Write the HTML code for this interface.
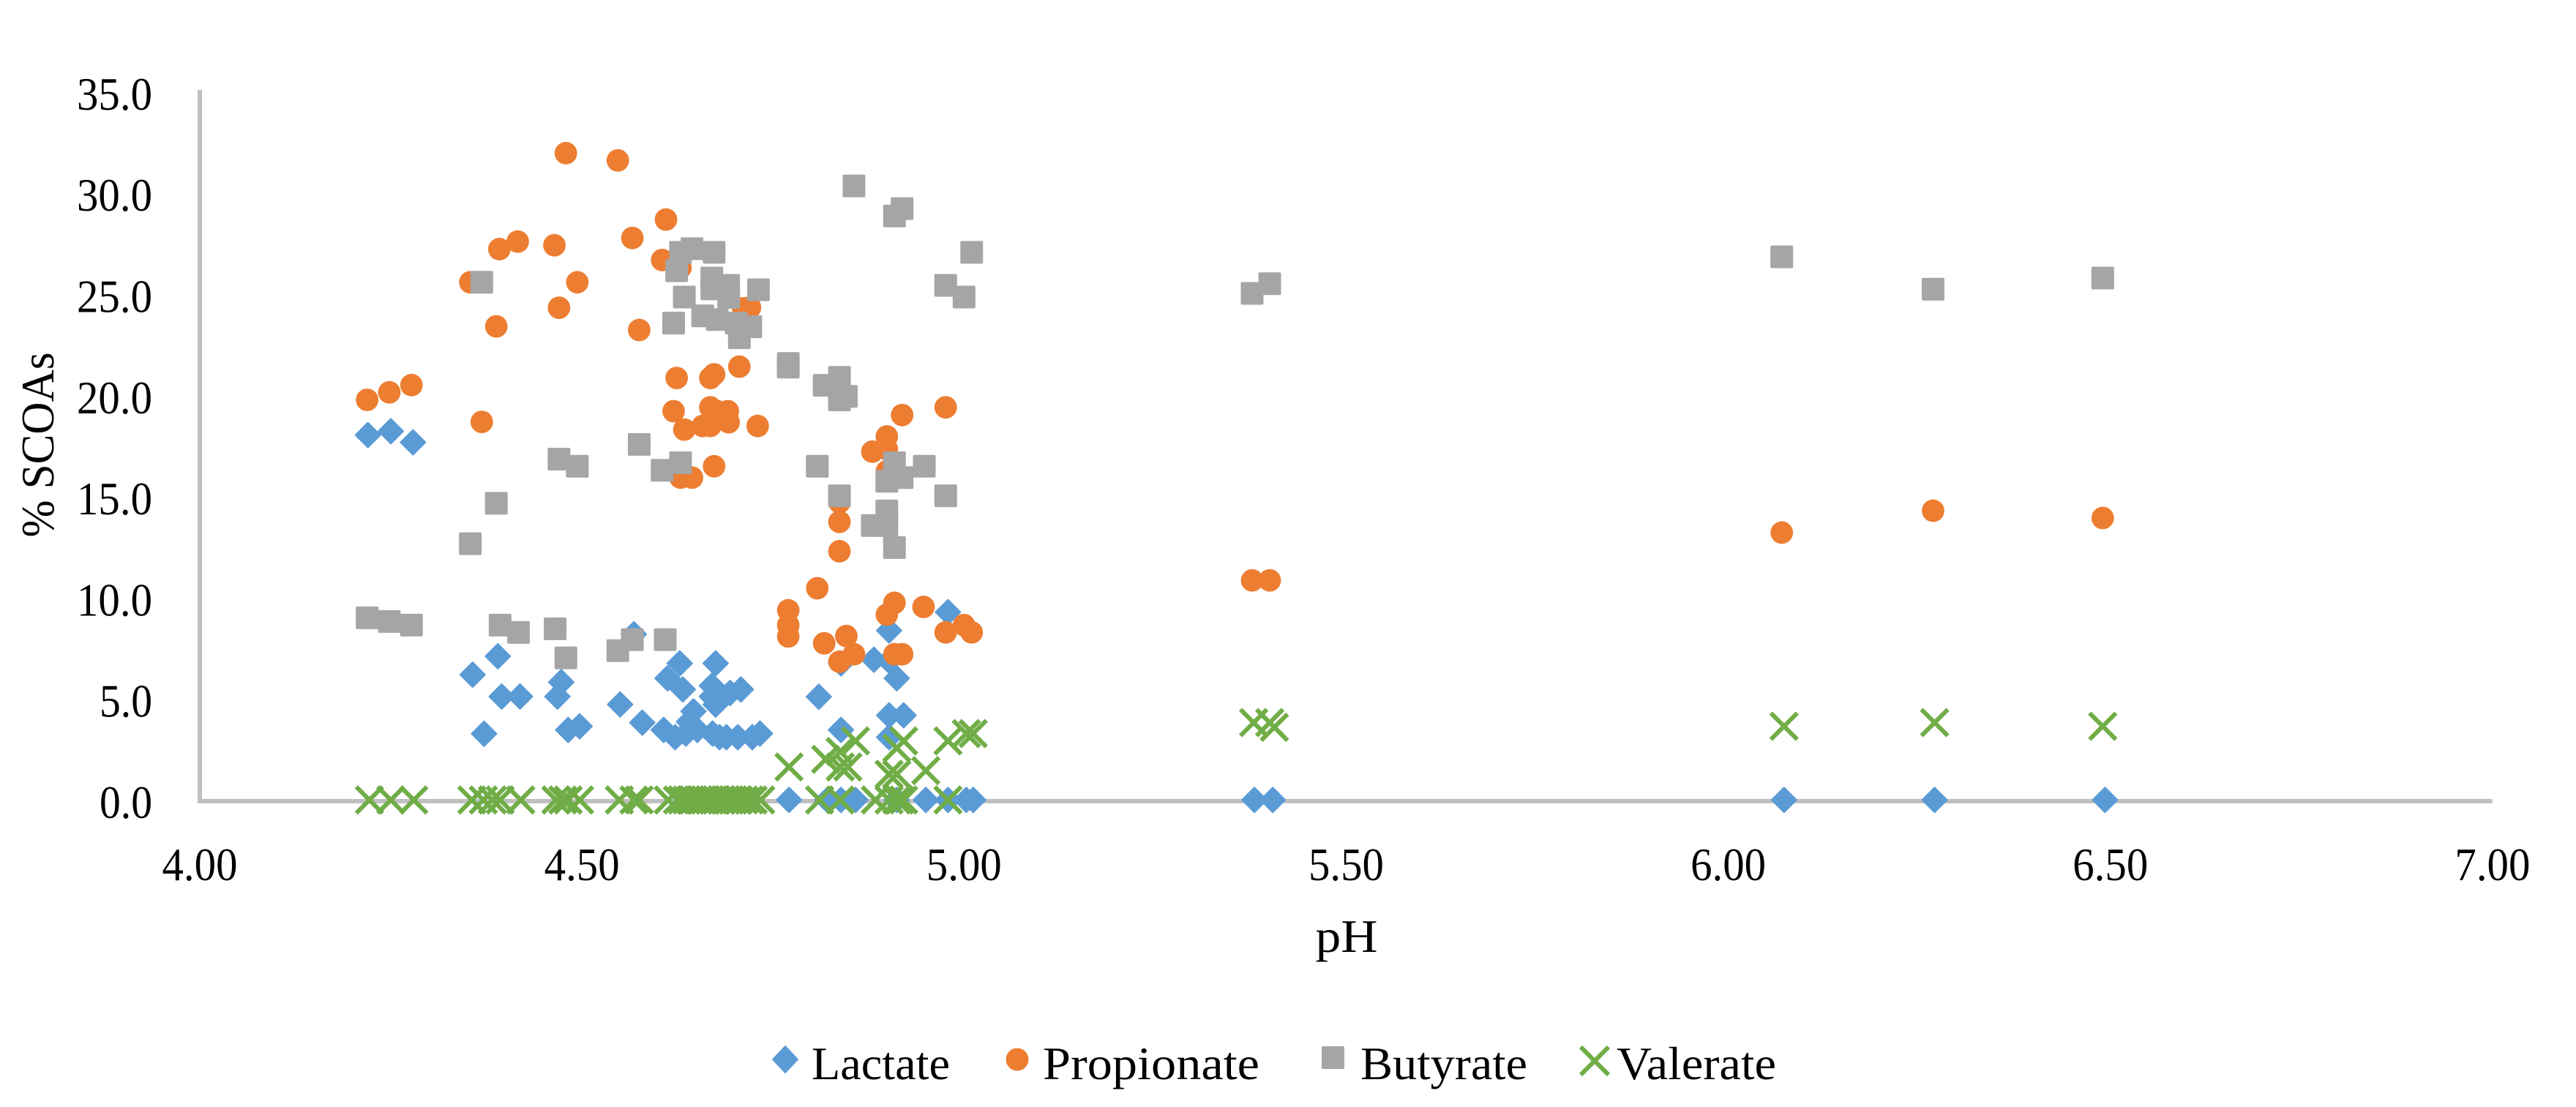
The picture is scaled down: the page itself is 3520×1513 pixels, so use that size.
<!DOCTYPE html>
<html>
<head>
<meta charset="utf-8">
<title>SCOAs vs pH</title>
<style>
html,body{margin:0;padding:0;background:#fff;}
svg{display:block;}
text{font-family:"Liberation Serif","DejaVu Serif",serif;fill:#000;}
</style>
</head>
<body>
<svg id="chart" xmlns="http://www.w3.org/2000/svg" width="3520" height="1513" viewBox="0 0 3520 1513">
  <rect x="0" y="0" width="3520" height="1513" fill="#ffffff"/>
  <g id="axes"></g>
  <g id="marks"></g>
  <text x="1840" y="1301" font-size="63" text-anchor="middle" textLength="85" lengthAdjust="spacingAndGlyphs">pH</text>
  <text transform="translate(73,608) rotate(-90)" font-size="63" text-anchor="middle" textLength="253" lengthAdjust="spacingAndGlyphs">% SCOAs</text>
  <g>
    <g>
      <path d="M1073 1430 L1090 1448 L1073 1466 L1056 1448 Z" fill="#5B9BD5" stroke="#5B9BD5" stroke-width="2" stroke-linejoin="round"/>
      <text x="1109" y="1475" font-size="63" textLength="189" lengthAdjust="spacingAndGlyphs">Lactate</text>
    </g>
    <g>
      <circle cx="1390" cy="1448" r="15.5" fill="#ED7D31"/>
      <text x="1425" y="1475" font-size="63" textLength="296" lengthAdjust="spacingAndGlyphs">Propionate</text>
    </g>
    <g>
      <rect x="1806" y="1430" width="31" height="31" rx="2" fill="#A5A5A5"/>
      <text x="1859" y="1475" font-size="63" textLength="228" lengthAdjust="spacingAndGlyphs">Butyrate</text>
    </g>
    <g>
      <path d="M2160 1431 L2198 1469 M2198 1431 L2160 1469" fill="none" stroke="#70AD47" stroke-width="6"/>
      <text x="2209" y="1475" font-size="63" textLength="218" lengthAdjust="spacingAndGlyphs">Valerate</text>
    </g>
  </g>
</svg>
<script>
const xTickValues = [4, 4.5, 5, 5.5, 6, 6.5, 7];
const xTickLabels = ["4.00", "4.50", "5.00", "5.50", "6.00", "6.50", "7.00"];
const yTickValues = [0, 5, 10, 15, 20, 25, 30, 35];
const yTickLabels = ["0.0", "5.0", "10.0", "15.0", "20.0", "25.0", "30.0", "35.0"];

const lactatePH = [4.22,4.25,4.279,4.568,4.39,4.357,4.395,4.419,4.372,4.473,4.468,4.482,4.497,4.55,4.579,4.628,4.612,4.632,4.675,4.67,4.67,4.675,4.694,4.708,4.646,4.64,4.607,4.622,4.636,4.651,4.671,4.68,4.689,4.704,4.723,4.733,4.979,4.902,4.882,4.902,4.912,4.839,4.81,4.902,4.921,4.839,4.902,4.771,4.821,4.839,4.858,4.912,4.95,4.979,5.003,5.012,5.38,5.404,6.073,6.27,6.493];
const lactatePct = [18.09,18.28,17.73,8.25,7.16,6.25,5.17,5.17,3.33,5.88,5.17,3.52,3.7,4.78,3.88,6.81,6.07,5.52,6.81,5.7,5.17,4.77,5.35,5.52,4.44,3.92,3.52,3.16,3.34,3.52,3.34,3.16,3.16,3.16,3.16,3.34,9.34,8.43,6.99,6.93,6.07,6.81,5.16,4.24,4.24,3.52,3.16,0.06,0.06,0.06,0.06,0.06,0.06,0.06,0.06,0.06,0.06,0.06,0.06,0.06,0.06];

const propionatePH = [4.479,4.547,4.61,4.566,4.416,4.392,4.464,4.605,4.629,4.354,4.494,4.47,4.388,4.575,4.72,4.711,4.706,4.624,4.673,4.668,4.62,4.668,4.691,4.677,4.692,4.634,4.658,4.668,4.73,4.369,4.219,4.248,4.277,4.919,4.976,4.899,4.88,4.899,4.899,4.673,4.629,4.644,4.837,4.837,4.837,4.808,4.77,4.77,4.77,4.817,4.846,4.856,4.837,4.909,4.899,4.947,5.0,4.976,5.01,4.909,4.919,5.377,5.4,6.07,6.268,6.49];
const propionatePct = [32.02,31.66,28.74,27.83,27.65,27.28,27.47,26.74,26.36,25.64,25.64,24.38,23.46,23.28,24.4,24.35,21.47,20.91,21.09,20.91,19.27,19.46,19.27,19.27,18.72,18.36,18.54,18.54,18.54,18.74,19.83,20.2,20.56,19.08,19.46,18.02,17.27,17.4,16.3,16.55,15.99,15.99,14.77,13.8,12.35,10.52,9.43,8.7,8.14,7.8,8.16,7.26,6.89,9.8,9.22,9.6,8.7,8.34,8.34,7.26,7.26,10.91,10.91,13.27,14.35,13.99];

const butyratePH = [4.856,4.919,4.909,5.01,4.976,5.0,5.4,5.377,4.369,4.629,4.644,4.673,4.624,4.67,4.67,4.692,4.692,4.731,4.634,4.658,4.677,4.702,4.721,4.706,4.62,4.77,4.77,4.817,4.837,4.846,4.837,4.575,4.47,4.494,4.629,4.605,4.808,4.837,4.948,4.909,4.919,4.899,4.899,4.899,4.88,4.909,4.976,4.388,4.354,4.219,4.248,4.277,4.393,4.417,4.465,4.479,4.547,4.566,4.609,6.07,6.268,6.49];
const butyratePct = [30.4,29.28,28.92,27.12,25.49,24.91,25.57,25.09,25.64,27.12,27.3,27.12,26.21,25.85,25.31,25.49,24.89,25.27,24.91,23.98,23.8,23.62,23.44,22.9,23.62,21.63,21.45,20.55,20.94,20.0,19.83,17.63,16.9,16.55,16.72,16.35,16.55,15.09,16.55,16.72,15.99,15.81,14.34,13.62,13.62,12.53,15.09,14.72,12.72,9.06,8.88,8.7,8.7,8.34,8.52,7.08,7.44,7.98,7.98,26.9,25.3,25.85];

const valeratePH = [4.222,4.25,4.28,4.356,4.371,4.383,4.393,4.42,4.466,4.475,4.482,4.497,4.549,4.568,4.575,4.613,4.625,4.631,4.637,4.642,4.646,4.652,4.657,4.661,4.667,4.672,4.676,4.683,4.688,4.693,4.698,4.705,4.712,4.719,4.724,4.734,4.771,4.819,4.838,4.858,4.838,4.848,4.921,4.912,4.902,4.912,4.95,4.979,5.003,5.012,4.811,4.838,4.884,4.902,4.912,4.916,4.921,4.979,5.379,5.4,5.406,6.073,6.27,6.49];
const valeratePct = [0.06,0.06,0.06,0.06,0.06,0.06,0.06,0.06,0.06,0.06,0.06,0.06,0.06,0.06,0.06,0.06,0.06,0.06,0.06,0.06,0.06,0.06,0.06,0.06,0.06,0.06,0.06,0.06,0.06,0.06,0.06,0.06,0.06,0.06,0.06,0.06,1.69,2.07,2.45,2.98,1.69,1.69,2.98,2.62,1.33,1.33,1.51,2.98,3.34,3.34,0.06,0.06,0.06,0.06,0.06,0.06,0.06,0.06,3.88,3.88,3.65,3.7,3.88,3.7];

const svgNS = 'http://www.w3.org/2000/svg';
const axesLayer = document.getElementById('axes');
const marksLayer = document.getElementById('marks');

function xScale(v) { return 273 + (v - 4) * 1044.3; }
function yScale(v) { return 1095 - v * 27.66; }

function make(tag, attrs, parent) {
  const el = document.createElementNS(svgNS, tag);
  for (const k in attrs) el.setAttribute(k, attrs[k]);
  parent.appendChild(el);
  return el;
}

const yAxisLine = make('line', {x1: xScale(4), y1: 123, x2: xScale(4), y2: yScale(0) + 3, stroke: '#BFBFBF', 'stroke-width': 6}, axesLayer);



const xAxisLine = make('line', {x1: xScale(4) - 3, y1: yScale(0), x2: xScale(7), y2: yScale(0), stroke: '#BFBFBF', 'stroke-width': 6}, axesLayer);



xTickValues.forEach(function (v, i) {
  const t = make('text', {x: xScale(v), y: 1203, 'font-size': 63, 'text-anchor': 'middle', textLength: 103, lengthAdjust: 'spacingAndGlyphs'}, axesLayer);
  t.textContent = xTickLabels[i];
  
  
});

yTickValues.forEach(function (v, i) {
  const len = yTickLabels[i].length === 4 ? 103 : 72;
  const t = make('text', {x: 208, y: yScale(v) + 23, 'font-size': 63, 'text-anchor': 'end', textLength: len, lengthAdjust: 'spacingAndGlyphs'}, axesLayer);
  t.textContent = yTickLabels[i];
  
  
});

function drawDiamond(cx, cy) {
  const s = 17;
  return make('path', {d: 'M' + cx + ' ' + (cy - s) + ' L' + (cx + s) + ' ' + cy + ' L' + cx + ' ' + (cy + s) + ' L' + (cx - s) + ' ' + cy + ' Z', fill: '#5B9BD5', stroke: '#5B9BD5', 'stroke-width': 2, 'stroke-linejoin': 'round'}, marksLayer);
}
function drawCircle(cx, cy) {
  return make('circle', {cx: cx, cy: cy, r: 15.4, fill: '#ED7D31'}, marksLayer);
}
function drawSquare(cx, cy) {
  return make('rect', {x: cx - 15.5, y: cy - 15.5, width: 31, height: 31, rx: 2, fill: '#A5A5A5'}, marksLayer);
}
function drawCross(cx, cy) {
  const s = 18;
  return make('path', {d: 'M' + (cx - s) + ' ' + (cy - s) + ' L' + (cx + s) + ' ' + (cy + s) + ' M' + (cx + s) + ' ' + (cy - s) + ' L' + (cx - s) + ' ' + (cy + s), fill: 'none', stroke: '#70AD47', 'stroke-width': 6}, marksLayer);
}

lactatePH.forEach(function (p, i) {
  const m = drawDiamond(xScale(p), yScale(lactatePct[i]));
  
  
});
propionatePH.forEach(function (p, i) {
  const m = drawCircle(xScale(p), yScale(propionatePct[i]));
  
  
});
butyratePH.forEach(function (p, i) {
  const m = drawSquare(xScale(p), yScale(butyratePct[i]));
  
  
});
valeratePH.forEach(function (p, i) {
  const m = drawCross(xScale(p), yScale(valeratePct[i]));
  
  
});
</script>
</body>
</html>
